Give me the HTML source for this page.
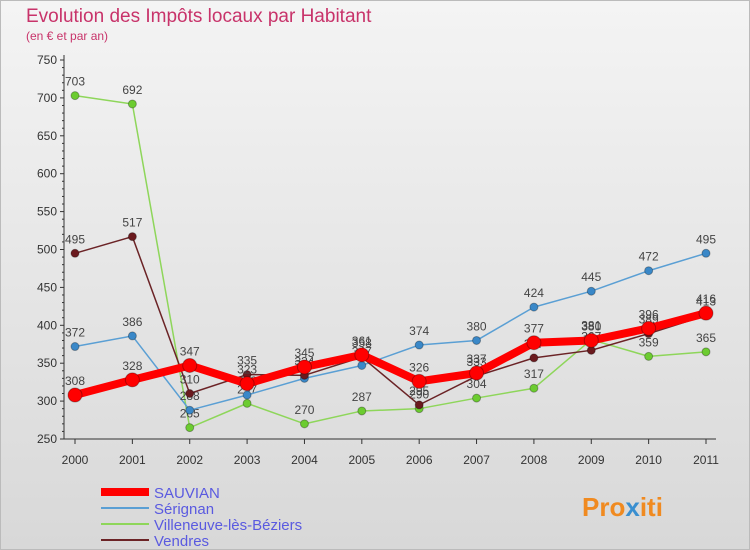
<!DOCTYPE html>
<html><head><meta charset="utf-8"><style>
body{margin:0;width:750px;height:550px;overflow:hidden;font-family:"Liberation Sans",sans-serif}
#wrap{position:relative;width:748px;height:548px;border:1px solid #bbb;background:linear-gradient(#f4f4f4,#d8d8d8)}
</style></head><body>
<div id="wrap">
<svg id="chart" width="750" height="550" style="position:absolute;left:-1px;top:-1px">
<text x="26" y="22" font-size="19" fill="#c8336a">Evolution des Impôts locaux par Habitant</text>
<text x="26" y="40" font-size="12" fill="#c8336a">(en € et par an)</text>
<g id="grid"></g><g id="series"></g><g id="legend"></g>
<text x="582" y="516" font-size="26" font-weight="bold" fill="#f08a20">Pro<tspan fill="#3a8fd0">x</tspan>iti</text>
</svg></div>
<script>
const years=["2000","2001","2002","2003","2004","2005","2006","2007","2008","2009","2010","2011"];
const yTicks=[250,300,350,400,450,500,550,600,650,700,750];
const sauvian=[308,328,347,323,345,361,326,337,377,380,396,416];
const serignan=[372,386,288,308,330,347,374,380,424,445,472,495];
const villeneuve=[703,692,265,297,270,287,290,304,317,381,359,365];
const vendres=[495,517,310,335,334,358,295,333,357,367,389,413];
const NS="http://www.w3.org/2000/svg";
const X=i=>75+i*(706-75)/11, Y=v=>439-(v-250)*(439-60)/500;
function el(t,a,p){const e=document.createElementNS(NS,t);for(const k in a)e.setAttribute(k,a[k]);p.appendChild(e);return e;}
const g=document.getElementById('grid');
let ax=el('line',{x1:64,y1:55,x2:64,y2:439,stroke:'#333'},g);


let bx=el('line',{x1:64,y1:439,x2:716,y2:439,stroke:'#333'},g);


yTicks.forEach(v=>{const y=Y(v);
 el('line',{x1:60,y1:y,x2:64,y2:y,stroke:'#333'},g);
 for(let k=1;k<5;k++){const yy=Y(v+k*10);if(v<750)el('line',{x1:62,y1:yy,x2:64,y2:yy,stroke:'#333'},g);}
 const t=el('text',{x:57,y:y+4,'font-size':12,'text-anchor':'end',fill:'#333'},g);t.textContent=v;
 
 });
years.forEach((yr,i)=>{const x=X(i);el('line',{x1:x,y1:439,x2:x,y2:444,stroke:'#333'},g);
 const t=el('text',{x:x,y:464,'font-size':12,'text-anchor':'middle',fill:'#333'},g);t.textContent=yr;
 
 });
const S=document.getElementById('series');
const defs=[["villeneuve",villeneuve,"#8ed65a","#6ccc30",1.5,4],["serignan",serignan,"#5a9fd4","#3a88c8",1.5,4],["vendres",vendres,"#6b2326","#6b1a1e",1.5,4],["sauvian",sauvian,"#f00","#f00",8,7]];
defs.forEach(([n,d,c,pc,w,r])=>{
 const p=el('polyline',{points:d.map((v,i)=>X(i)+','+Y(v)).join(' '),fill:'none',stroke:c,'stroke-width':w,'stroke-linejoin':'round'},S);
 
 
 d.forEach((v,i)=>{const m=el('circle',{cx:X(i),cy:Y(v),r:r,fill:pc,stroke:'rgba(0,0,0,0.3)'},S);
  
  
  const t=el('text',{x:X(i),y:Y(v)-10,'font-size':12,'text-anchor':'middle',fill:'#444'},S);t.textContent=v;
  
  });
});
const L=document.getElementById('legend');
[["SAUVIAN","#f00",8],["Sérignan","#5a9fd4",2],["Villeneuve-lès-Béziers","#8ed65a",2],["Vendres","#6b2326",2]].forEach(([n,c,w],k)=>{
 const y=492+k*16;
 const l=el('line',{x1:101,y1:y,x2:149,y2:y,stroke:c,'stroke-width':w},L);
 
 
 const t=el('text',{x:154,y:y+6,'font-size':15,fill:'#5a5ae0'},L);t.textContent=n;
 
 });
</script></body></html>
